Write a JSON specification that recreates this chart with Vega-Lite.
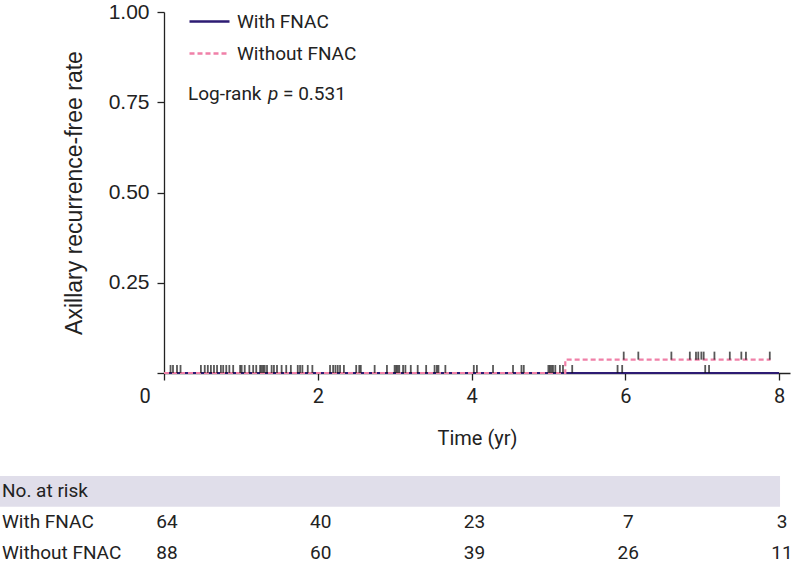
{
  "$schema": "https://vega.github.io/schema/vega-lite/v6.json",
  "padding": {"left": 0, "top": 0, "right": 0, "bottom": 0},
  "background": "white",
  "bounds": "flush",
  "spacing": 103,
  "config": {"view": {"stroke": null}},
  "datasets": {
    "curves": [
      {"group": "With FNAC", "time": 0, "rate": 0},
      {"group": "With FNAC", "time": 8.0, "rate": 0},
      {"group": "Without FNAC", "time": 0, "rate": 0},
      {"group": "Without FNAC", "time": 5.22, "rate": 0.037},
      {"group": "Without FNAC", "time": 7.89, "rate": 0.037}
    ],
    "censor": [
      {"group": "Without FNAC", "time": 0.085, "rate": 0},
      {"group": "With FNAC", "time": 0.117, "rate": 0},
      {"group": "Without FNAC", "time": 0.169, "rate": 0},
      {"group": "With FNAC", "time": 0.215, "rate": 0},
      {"group": "Without FNAC", "time": 0.48, "rate": 0},
      {"group": "With FNAC", "time": 0.53, "rate": 0},
      {"group": "Without FNAC", "time": 0.57, "rate": 0},
      {"group": "With FNAC", "time": 0.61, "rate": 0},
      {"group": "Without FNAC", "time": 0.65, "rate": 0},
      {"group": "With FNAC", "time": 0.69, "rate": 0},
      {"group": "Without FNAC", "time": 0.74, "rate": 0},
      {"group": "With FNAC", "time": 0.77, "rate": 0},
      {"group": "Without FNAC", "time": 0.81, "rate": 0},
      {"group": "With FNAC", "time": 0.85, "rate": 0},
      {"group": "Without FNAC", "time": 0.90, "rate": 0},
      {"group": "With FNAC", "time": 0.99, "rate": 0},
      {"group": "Without FNAC", "time": 1.01, "rate": 0},
      {"group": "With FNAC", "time": 1.05, "rate": 0},
      {"group": "Without FNAC", "time": 1.11, "rate": 0},
      {"group": "With FNAC", "time": 1.16, "rate": 0},
      {"group": "Without FNAC", "time": 1.20, "rate": 0},
      {"group": "With FNAC", "time": 1.25, "rate": 0},
      {"group": "Without FNAC", "time": 1.27, "rate": 0},
      {"group": "With FNAC", "time": 1.29, "rate": 0},
      {"group": "Without FNAC", "time": 1.31, "rate": 0},
      {"group": "With FNAC", "time": 1.34, "rate": 0},
      {"group": "Without FNAC", "time": 1.40, "rate": 0},
      {"group": "With FNAC", "time": 1.43, "rate": 0},
      {"group": "Without FNAC", "time": 1.47, "rate": 0},
      {"group": "With FNAC", "time": 1.53, "rate": 0},
      {"group": "Without FNAC", "time": 1.59, "rate": 0},
      {"group": "With FNAC", "time": 1.65, "rate": 0},
      {"group": "Without FNAC", "time": 1.74, "rate": 0},
      {"group": "With FNAC", "time": 1.77, "rate": 0},
      {"group": "Without FNAC", "time": 1.80, "rate": 0},
      {"group": "With FNAC", "time": 1.87, "rate": 0},
      {"group": "Without FNAC", "time": 1.93, "rate": 0},
      {"group": "With FNAC", "time": 2.16, "rate": 0},
      {"group": "Without FNAC", "time": 2.20, "rate": 0},
      {"group": "With FNAC", "time": 2.23, "rate": 0},
      {"group": "Without FNAC", "time": 2.26, "rate": 0},
      {"group": "With FNAC", "time": 2.29, "rate": 0},
      {"group": "Without FNAC", "time": 2.34, "rate": 0},
      {"group": "With FNAC", "time": 2.50, "rate": 0},
      {"group": "Without FNAC", "time": 2.54, "rate": 0},
      {"group": "With FNAC", "time": 2.56, "rate": 0},
      {"group": "Without FNAC", "time": 2.74, "rate": 0},
      {"group": "With FNAC", "time": 2.90, "rate": 0},
      {"group": "Without FNAC", "time": 3.00, "rate": 0},
      {"group": "With FNAC", "time": 3.02, "rate": 0},
      {"group": "Without FNAC", "time": 3.04, "rate": 0},
      {"group": "With FNAC", "time": 3.06, "rate": 0},
      {"group": "Without FNAC", "time": 3.11, "rate": 0},
      {"group": "With FNAC", "time": 3.14, "rate": 0},
      {"group": "Without FNAC", "time": 3.21, "rate": 0},
      {"group": "With FNAC", "time": 3.30, "rate": 0},
      {"group": "Without FNAC", "time": 3.41, "rate": 0},
      {"group": "With FNAC", "time": 3.52, "rate": 0},
      {"group": "Without FNAC", "time": 3.55, "rate": 0},
      {"group": "With FNAC", "time": 3.57, "rate": 0},
      {"group": "Without FNAC", "time": 3.66, "rate": 0},
      {"group": "With FNAC", "time": 4.03, "rate": 0},
      {"group": "Without FNAC", "time": 4.07, "rate": 0},
      {"group": "With FNAC", "time": 4.28, "rate": 0},
      {"group": "Without FNAC", "time": 4.54, "rate": 0},
      {"group": "With FNAC", "time": 4.65, "rate": 0},
      {"group": "Without FNAC", "time": 4.68, "rate": 0},
      {"group": "With FNAC", "time": 5.00, "rate": 0},
      {"group": "Without FNAC", "time": 5.02, "rate": 0},
      {"group": "With FNAC", "time": 5.04, "rate": 0},
      {"group": "Without FNAC", "time": 5.06, "rate": 0},
      {"group": "With FNAC", "time": 5.09, "rate": 0},
      {"group": "Without FNAC", "time": 5.15, "rate": 0},
      {"group": "With FNAC", "time": 5.19, "rate": 0},
      {"group": "With FNAC", "time": 5.31, "rate": 0},
      {"group": "With FNAC", "time": 5.90, "rate": 0},
      {"group": "With FNAC", "time": 5.96, "rate": 0},
      {"group": "With FNAC", "time": 7.04, "rate": 0},
      {"group": "With FNAC", "time": 7.09, "rate": 0},
      {"group": "Without FNAC", "time": 5.98, "rate": 0.037},
      {"group": "Without FNAC", "time": 6.17, "rate": 0.037},
      {"group": "Without FNAC", "time": 6.60, "rate": 0.037},
      {"group": "Without FNAC", "time": 6.84, "rate": 0.037},
      {"group": "Without FNAC", "time": 6.92, "rate": 0.037},
      {"group": "Without FNAC", "time": 6.95, "rate": 0.037},
      {"group": "Without FNAC", "time": 6.99, "rate": 0.037},
      {"group": "Without FNAC", "time": 7.02, "rate": 0.037},
      {"group": "Without FNAC", "time": 7.16, "rate": 0.037},
      {"group": "Without FNAC", "time": 7.36, "rate": 0.037},
      {"group": "Without FNAC", "time": 7.51, "rate": 0.037},
      {"group": "Without FNAC", "time": 7.57, "rate": 0.037},
      {"group": "Without FNAC", "time": 7.88, "rate": 0.037}
    ],
    "rows": [
      {"row": "No. at risk"},
      {"row": "With FNAC"},
      {"row": "Without FNAC"}
    ],
    "risk": [
      {"row": "With FNAC", "time": 0, "n": 64},
      {"row": "With FNAC", "time": 2, "n": 40},
      {"row": "With FNAC", "time": 4, "n": 23},
      {"row": "With FNAC", "time": 6, "n": 7},
      {"row": "With FNAC", "time": 8, "n": 3},
      {"row": "Without FNAC", "time": 0, "n": 88},
      {"row": "Without FNAC", "time": 2, "n": 60},
      {"row": "Without FNAC", "time": 4, "n": 39},
      {"row": "Without FNAC", "time": 6, "n": 26},
      {"row": "Without FNAC", "time": 8, "n": 11}
    ]
  },
  "vconcat": [
    {
      "width": 626,
      "height": 361,
      "layer": [
        {
          "data": {"name": "curves"},
          "mark": {"type": "line", "interpolate": "step-after", "strokeWidth": 2.2},
          "encoding": {
            "x": {
              "field": "time", "type": "quantitative",
              "scale": {"domain": [0, 8.143], "nice": false, "zero": false},
              "axis": {
                "values": [0, 2, 4, 6, 8],
                "format": "d",
                "title": "Time (yr)",
                "grid": false,
                "tickSize": 7,
                "labelPadding": 6,
                "labelFont": "Roboto",
                "labelFontSize": 20,
                "labelColor": "#222",
                "labelOffset": {"condition": {"test": "datum.value === 0", "value": -25}, "value": 0},
                "titleFont": "Roboto",
                "titleFontSize": 20,
                "titleFontWeight": "normal",
                "titleColor": "#222",
                "titlePadding": 22,
                "domainColor": "#222",
                "domainWidth": 1.3,
                "tickColor": "#222",
                "tickWidth": 1.3
              }
            },
            "y": {
              "field": "rate", "type": "quantitative",
              "scale": {"domain": [0, 1], "nice": false},
              "axis": {
                "values": [0, 0.25, 0.5, 0.75, 1],
                "labelExpr": "datum.value === 0 ? '' : format(datum.value, '.2f')",
                "title": "Axillary recurrence-free rate",
                "grid": false,
                "tickSize": 7,
                "labelPadding": 8,
                "labelFont": "Liberation Sans",
                "labelFontSize": 21,
                "labelColor": "#222",
                "titleFont": "Liberation Sans",
                "titleFontSize": 23,
                "titleFontWeight": "normal",
                "titleColor": "#222",
                "titlePadding": 22,
                "domainColor": "#222",
                "domainWidth": 1.3,
                "tickColor": "#222",
                "tickWidth": 1.3
              }
            },
            "color": {
              "field": "group", "type": "nominal",
              "scale": {"domain": ["With FNAC", "Without FNAC"], "range": ["#2d1b73", "#f080a8"]},
              "legend": {
                "orient": "none", "legendX": 24, "legendY": -12, "title": null,
                "symbolType": "stroke", "symbolSize": 1600, "symbolStrokeWidth": 2.5,
                "labelFont": "Roboto", "labelFontSize": 19, "labelColor": "#222",
                "labelOffset": 6, "rowPadding": 0, "padding": 0
              }
            },
            "strokeDash": {
              "field": "group", "type": "nominal",
              "scale": {"domain": ["With FNAC", "Without FNAC"], "range": [[1, 0], [5, 3]]},
              "legend": {
                "orient": "none", "legendX": 24, "legendY": -12, "title": null,
                "symbolType": "stroke", "symbolSize": 1600, "symbolStrokeWidth": 2.5,
                "labelFont": "Roboto", "labelFontSize": 19, "labelColor": "#222",
                "labelOffset": 6, "rowPadding": 0, "padding": 0
              }
            }
          }
        },
        {
          "data": {"name": "censor"},
          "mark": {"type": "tick", "orient": "vertical", "size": 8, "thickness": 1.8, "color": "#111", "yOffset": -4},
          "encoding": {
            "x": {"field": "time", "type": "quantitative"},
            "y": {"field": "rate", "type": "quantitative"}
          }
        },
        {
          "data": {"values": [{"label": "Log-rank"}]},
          "mark": {"type": "text", "align": "left", "baseline": "middle", "font": "Roboto", "fontSize": 19, "color": "#222"},
          "encoding": {
            "x": {"datum": 0.312, "type": "quantitative"},
            "y": {"datum": 0.773, "type": "quantitative"},
            "text": {"field": "label"}
          }
        },
        {
          "data": {"values": [{"label": "p"}]},
          "mark": {"type": "text", "align": "left", "baseline": "middle", "font": "Roboto", "fontSize": 19, "fontStyle": "italic", "color": "#222", "dx": 80},
          "encoding": {
            "x": {"datum": 0.312, "type": "quantitative"},
            "y": {"datum": 0.773, "type": "quantitative"},
            "text": {"field": "label"}
          }
        },
        {
          "data": {"values": [{"label": "= 0.531"}]},
          "mark": {"type": "text", "align": "left", "baseline": "middle", "font": "Roboto", "fontSize": 19, "color": "#222", "dx": 95},
          "encoding": {
            "x": {"datum": 0.312, "type": "quantitative"},
            "y": {"datum": 0.773, "type": "quantitative"},
            "text": {"field": "label"}
          }
        }
      ]
    },
    {
      "width": 626,
      "height": 92,
      "layer": [
        {
          "data": {"name": "rows"},
          "transform": [{"filter": "datum.row === 'No. at risk'"}],
          "mark": {"type": "rect", "color": "#e0deea"},
          "encoding": {
            "x": {"datum": -2.1333, "type": "quantitative", "scale": {"domain": [0, 8.143], "nice": false, "zero": false}, "axis": null},
            "x2": {"datum": 8.0133},
            "y": {"field": "row", "type": "nominal", "scale": {"domain": ["No. at risk", "With FNAC", "Without FNAC"], "paddingInner": 0, "paddingOuter": 0}, "axis": null}
          }
        },
        {
          "data": {"name": "rows"},
          "mark": {"type": "text", "align": "left", "baseline": "middle", "font": "Roboto", "fontSize": 19, "color": "#222", "dx": 2},
          "encoding": {
            "x": {"datum": -2.1333, "type": "quantitative"},
            "y": {"field": "row", "type": "nominal"},
            "text": {"field": "row"}
          }
        },
        {
          "data": {"name": "risk"},
          "mark": {"type": "text", "align": "center", "baseline": "middle", "font": "Roboto", "fontSize": 19, "color": "#222", "dx": 3},
          "encoding": {
            "x": {"field": "time", "type": "quantitative"},
            "y": {"field": "row", "type": "nominal"},
            "text": {"field": "n", "type": "quantitative"}
          }
        }
      ]
    }
  ],
  "resolve": {"scale": {"x": "independent", "y": "independent"}}
}
